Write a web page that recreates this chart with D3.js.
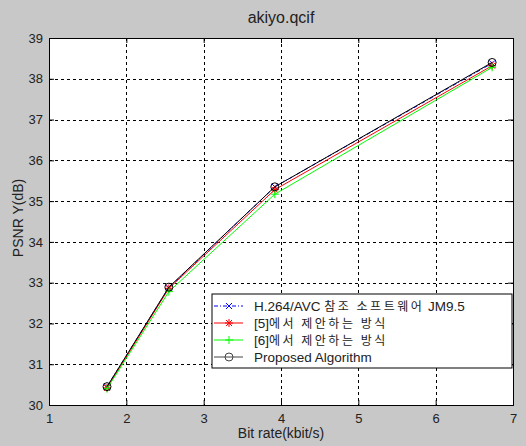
<!DOCTYPE html>
<html>
<head>
<meta charset="utf-8">
<script src="https://cdn.jsdelivr.net/npm/d3@7"></script>
<style>
  body { margin: 0; background: #c8c8c8; }
  svg { display: block; font-family: "Liberation Sans", Arial, sans-serif; }
</style>
</head>
<body>
<div id="chart"></div>
<script>
// Bit rates (kbit/s) and PSNR values
const bitRates = [1.75, 2.55, 3.92, 6.73];
const jm95 = [30.45, 32.88, 35.35, 38.38];
const method5 = [30.42, 32.86, 35.28, 38.32];
const method6 = [30.40, 32.78, 35.17, 38.28];
const proposed = [30.45, 32.89, 35.35, 38.40];

const xTicks = [1, 2, 3, 4, 5, 6, 7];
const yTicks = [30, 31, 32, 33, 34, 35, 36, 37, 38, 39];

const seriesNames = [
    "H.264/AVC 참조 소프트웨어 JM9.5",
    "[5]에서 제안하는 방식",
    "[6]에서 제안하는 방식",
    "Proposed Algorithm"
];

const width = 526;
const height = 446;
const margin = { top: 38, right: 13, bottom: 41, left: 49 };

const svg = d3.select("#chart").append("svg")
    .attr("width", width)
    .attr("height", height);

svg.append("rect")
    .attr("width", width)
    .attr("height", height)
    .attr("fill", "#c8c8c8");

const x = d3.scaleLinear().domain([1, 7]).range([margin.left, width - margin.right]);
const y = d3.scaleLinear().domain([30, 39]).range([height - margin.bottom, margin.top]);

// plot area
svg.append("rect")
    .attr("x", x(1))
    .attr("y", y(39))
    .attr("width", x(7) - x(1))
    .attr("height", y(30) - y(39))
    .attr("fill", "#fff");

// grid
const grid = svg.append("g")
    .attr("stroke", "#000")
    .attr("stroke-width", 1)
    .attr("stroke-dasharray", "3,3");
grid.selectAll(".gx")
    .data(xTicks.slice(1, -1))
    .enter().append("line")
    .attr("x1", d => Math.round(x(d)) + 0.5)
    .attr("x2", d => Math.round(x(d)) + 0.5)
    .attr("y1", y(39))
    .attr("y2", y(30));
grid.selectAll(".gy")
    .data(yTicks.slice(1, -1))
    .enter().append("line")
    .attr("y1", d => Math.round(y(d)) + 0.5)
    .attr("y2", d => Math.round(y(d)) + 0.5)
    .attr("x1", x(1))
    .attr("x2", x(7));

// axes (ticks pointing inwards)
svg.append("g")
    .attr("transform", "translate(0," + y(30) + ")")
    .call(d3.axisBottom(x).tickValues(xTicks).tickSize(-5).tickPadding(9).tickFormat(d3.format("d")));
svg.append("g")
    .attr("transform", "translate(" + x(1) + ",0)")
    .call(d3.axisLeft(y).tickValues(yTicks).tickSize(-5).tickPadding(6).tickFormat(d3.format("d")));
svg.append("g")
    .attr("transform", "translate(0," + y(39) + ")")
    .call(d3.axisTop(x).tickValues(xTicks).tickSize(-5).tickFormat(""));
svg.append("g")
    .attr("transform", "translate(" + x(7) + ",0)")
    .call(d3.axisRight(y).tickValues(yTicks).tickSize(-5).tickFormat(""));

svg.selectAll(".domain").attr("stroke", "#000");
svg.selectAll(".tick line").attr("stroke", "#000");
svg.selectAll(".tick text")
    .attr("fill", "#222")
    .style("font-size", "13px")
    .style("font-family", "\"Liberation Sans\", Arial, sans-serif");

// labels
svg.append("text")
    .attr("x", (x(1) + x(7)) / 2)
    .attr("y", 23)
    .attr("text-anchor", "middle")
    .style("font-size", "16px")
    .attr("fill", "#222")
    .text("akiyo.qcif");
svg.append("text")
    .attr("x", (x(1) + x(7)) / 2)
    .attr("y", 438)
    .attr("text-anchor", "middle")
    .style("font-size", "14px")
    .attr("fill", "#222")
    .text("Bit rate(kbit/s)");
svg.append("text")
    .attr("transform", "translate(23,218) rotate(-90)")
    .attr("text-anchor", "middle")
    .style("font-size", "14px")
    .attr("fill", "#222")
    .text("PSNR Y(dB)");

// markers
function drawMarker(g, type, color) {
    if (type === "x") {
        g.append("path").attr("d", "M-3,-3L3,3M-3,3L3,-3").attr("stroke", color);
    } else if (type === "star") {
        g.append("path").attr("d", "M-4,0H4M0,-4V4M-3,-3L3,3M-3,3L3,-3").attr("stroke", color);
    } else if (type === "plus") {
        g.append("path").attr("d", "M-4,0H4M0,-4V4").attr("stroke", color);
    } else if (type === "circle") {
        g.append("circle").attr("r", 4).attr("fill", "none").attr("stroke", color);
    }
}

const series = [
    { name: seriesNames[0], values: jm95, color: "#0000ff", dash: "4,2,1,2", marker: "x" },
    { name: seriesNames[1], values: method5, color: "#ff0000", dash: null, marker: "star" },
    { name: seriesNames[2], values: method6, color: "#00ff00", dash: null, marker: "plus" },
    { name: seriesNames[3], values: proposed, color: "#000000", dash: null, marker: "circle" }
];

const line = d3.line()
    .x((d, i) => x(bitRates[i]))
    .y(d => y(d));

series.forEach(function (s) {
    svg.append("path")
        .datum(s.values)
        .attr("d", line)
        .attr("fill", "none")
        .attr("stroke", s.color)
        .attr("stroke-width", 1)
        .attr("stroke-dasharray", s.dash);
    s.values.forEach(function (v, i) {
        const g = svg.append("g")
            .attr("transform", "translate(" + x(bitRates[i]) + "," + y(v) + ")");
        drawMarker(g, s.marker, s.color);
    });
});

// legend
const legend = svg.append("g").attr("transform", "translate(212,294)");
legend.append("rect")
    .attr("width", 300)
    .attr("height", 74)
    .attr("fill", "#fff")
    .attr("stroke", "#000");

// split label into hangul / latin runs so the hangul can be spaced wider
function splitRuns(str) {
    return str.match(/[\uAC00-\uD7A3]+(?:\s+[\uAC00-\uD7A3]+)*|[^\uAC00-\uD7A3]+/g);
}

series.forEach(function (s, i) {
    const row = legend.append("g").attr("transform", "translate(0," + (12 + i * 17) + ")");
    const c = s.color === "#000000" ? "#444" : s.color;
    row.append("line")
        .attr("x1", 2).attr("x2", 31)
        .attr("stroke", c)
        .attr("stroke-dasharray", s.dash);
    const m = row.append("g").attr("transform", "translate(17,0)");
    drawMarker(m, s.marker, c);
    const text = row.append("text")
        .attr("x", 42)
        .attr("y", 5)
        .style("font-size", "13.5px")
        .attr("fill", "#222");
    splitRuns(s.name).forEach(function (run) {
        const hangul = /[\uAC00-\uD7A3]/.test(run);
        text.append("tspan")
            .style("font-family", hangul ? "\"Noto Sans CJK KR\", sans-serif" : "\"Liberation Sans\", Arial, sans-serif")
            .style("font-size", hangul ? "12px" : "13.5px")
            .style("letter-spacing", hangul ? "2.5px" : null)
            .style("white-space", "pre")
            .text(run);
    });
});
</script>
</body>
</html>
